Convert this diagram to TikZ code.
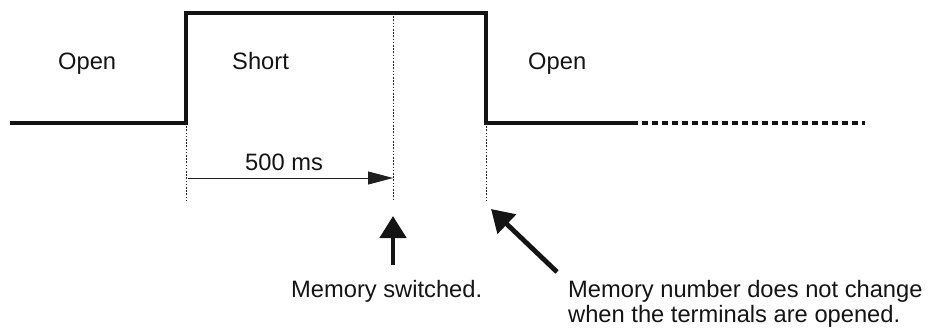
\documentclass[tikz,border=0pt]{standalone}
\usepackage{fontspec}
\setmainfont{Liberation Sans}
\usetikzlibrary{arrows.meta}
\begin{document}
\begin{tikzpicture}[x=1pt,y=-1pt,
  signal/.style={line width=3.2pt, line join=miter, color=black!92},
  guide/.style={line width=1pt, dash pattern=on 1.6pt off 1.6pt, color=black!85},
  lbl/.style={anchor=base west, inner sep=0pt, font=\fontsize{23.7}{25}\selectfont, text=black!92},
  bigarrow/.style={line width=4.8pt, color=black!92, -{Triangle[length=22pt,width=26pt]}},
  timearrow/.style={line width=0.9pt, color=black!88, -{Triangle[length=25pt,width=13pt]}},
]
\useasboundingbox (0,0) rectangle (928,329);
% signal
\coordinate (s0) at (10,123);
\coordinate (r0) at (186,123);
\coordinate (r1) at (186,13);
\coordinate (m1) at (393,13);
\coordinate (f1) at (486,13);
\coordinate (f0) at (486,123);
\coordinate (e0) at (632,123);
\coordinate (e1) at (865,123);
\draw[signal] (s0) -- (r0) -- (r1) -- (f1) -- (f0) -- (e0);
\draw[signal, dash pattern=on 5.5pt off 4.5pt] (e0) -- (e1);
% guides
\coordinate (g1) at (186,200);
\coordinate (g2) at (393,200);
\coordinate (g3) at (486,200);
\draw[guide] (r0) -- (g1);
\draw[guide] (m1) -- (g2);
\draw[guide] (f0) -- (g3);
% 500 ms
\coordinate (t0) at (188,178);
\coordinate (t1) at (393,178);
\draw[timearrow] (t0) -- (t1);
% labels
\node[lbl] (open1) at (58,70) {Open};
\node[lbl] (short) at (232,70) {Short};
\node[lbl] (open2) at (528,70) {Open};
\node[lbl] (ms) at (245,170) {500 ms};
\node[lbl] (sw) at (291,297) {Memory switched.};
\node[lbl] (nc1) at (568,297) {Memory number does not change};
\node[lbl] (nc2) at (568,322) {when the terminals are opened.};
% big arrows
\coordinate (a0) at (393,265);
\coordinate (a1) at (393,216);
\coordinate (b0) at (557,272);
\coordinate (b1) at (491,209);
\draw[bigarrow] (a0) -- (a1);
\draw[bigarrow] (b0) -- (b1);
\end{tikzpicture}
\end{document}
